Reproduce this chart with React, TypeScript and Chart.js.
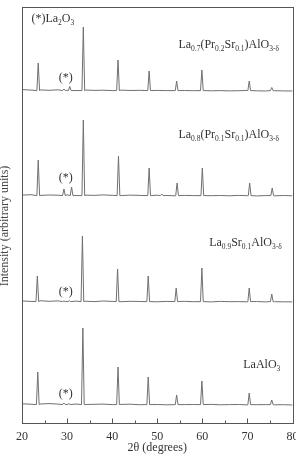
import React, { useEffect, useRef } from 'react';
import { Chart, registerables } from 'chart.js';

Chart.register(...registerables);

// ---- Data (2θ in degrees, intensity in arbitrary units) ----
const xTickValues = [20, 30, 40, 50, 60, 70, 80];
const xMinorTickValues = [25, 35, 45, 55, 65, 75];

const sampleLabels = [
  'LaAlO_{3}',
  'La_{0.9}Sr_{0.1}AlO_{3-δ}',
  'La_{0.8}(Pr_{0.1}Sr_{0.1})AlO_{3-δ}',
  'La_{0.7}(Pr_{0.2}Sr_{0.1})AlO_{3-δ}',
];
const phaseLabel = '(*)La_{2}O_{3}';
const impurityMark = '(*)';
const yTitle = 'Intensity (arbitrary units)';
const xTitle = '2θ (degrees)';

// vertical offsets of the stacked patterns
const traceOffsets = [18, 121, 227, 332];

// peak positions / heights for each sample
const posLaAlO3 = [23.5, 29.3, 30.4, 33.5, 41.3, 48.0, 54.3, 59.9, 70.4, 75.4];
const hLaAlO3 = [33, 2, 1.5, 77, 38, 28, 10, 24, 12, 5];

const posLa09 = [23.4, 29.3, 30.5, 33.4, 41.2, 48.0, 54.2, 59.9, 70.4, 75.4];
const hLa09 = [26, 1, 1.5, 66, 33, 26, 14, 34, 14, 8];

const posLa08 = [23.6, 29.3, 31.0, 33.6, 41.4, 48.2, 51.0, 54.4, 60.0, 70.5, 75.5];
const hLa08 = [36, 7, 9, 76, 40, 28, 2, 13, 28, 13, 8];

const posLa07 = [23.6, 29.3, 30.6, 33.6, 41.3, 48.2, 54.3, 59.9, 70.4, 75.4];
const hLa07 = [28, 2, 4.5, 64, 31, 20, 10, 21, 10, 3.5];

// background level, every 2° from 20° to 80°
const bgStart = 20;
const bgStep = 2;
const bgLaAlO3 = [1.2, 0.8, 1.0, 1.4, 0.9, 0.6, 1.0, 0.5, 0.7, 0.9, 0.4, 0.6, 0.8, 0.3, 0.6, 0.5, 0.2, 0.7, 0.4, 0.5, 0.3, 0.6, 0.2, 0.4, 0.5, 0.1, 0.3, 0.4, 0.2, 0.3, 0.0];
const bgLa09 = [1.0, 0.6, 1.3, 0.7, 1.1, 0.5, 0.9, 0.8, 0.4, 1.0, 0.6, 0.3, 0.7, 0.5, 0.8, 0.2, 0.6, 0.4, 0.7, 0.3, 0.5, 0.1, 0.6, 0.3, 0.4, 0.2, 0.5, 0.1, 0.3, 0.2, 0.1];
const bgLa08 = [0.9, 1.3, 0.6, 1.0, 0.8, 1.2, 0.5, 0.9, 0.6, 1.1, 0.7, 0.4, 0.9, 0.6, 0.3, 0.8, 0.5, 0.2, 0.6, 0.4, 0.7, 0.3, 0.5, 0.2, 0.6, 0.3, 0.1, 0.4, 0.2, 0.5, 0.2];
const bgLa07 = [1.4, 0.9, 1.1, 0.7, 1.2, 0.8, 0.5, 1.0, 0.6, 0.8, 0.4, 0.9, 0.5, 0.7, 0.3, 0.6, 0.4, 0.2, 0.5, 0.3, 0.6, 0.2, 0.4, 0.1, 0.3, 0.5, 0.2, 0.0, 0.3, 0.1, 0.0];

// annotation anchors in data coordinates
const sampleLabelAnchors = [
  { x: 77.3, y: 55 },
  { x: 77.6, y: 177.3 },
  { x: 77.0, y: 284.7 },
  { x: 77.0, y: 375 },
];
const phaseLabelAnchor = { x: 22.1, y: 401 };
const impurityAnchors = [
  { x: 29.7, y: 26 },
  { x: 29.7, y: 128 },
  { x: 29.7, y: 242.5 },
  { x: 29.7, y: 342 },
];
const yTitleAnchor = 197; // data value at the title's centre

// ---- rendering constants ----
const PEAK_HALF_WIDTH = 0.3;
const FOOT_LEVEL = 0.4;
const LINE_COLOR = '#707070';
const FONT = 'Liberation Serif';

type Pt = { x: number; y: number };

function buildTrace(positions: number[], heights: number[], bg: number[], offset: number): Pt[] {
  const pts: Pt[] = [];
  bg.forEach((v, i) => {
    const xv = bgStart + i * bgStep;
    if (!positions.some((p) => Math.abs(p - xv) <= PEAK_HALF_WIDTH)) pts.push({ x: xv, y: offset + v });
  });
  positions.forEach((p, i) => {
    pts.push(
      { x: p - PEAK_HALF_WIDTH, y: offset + FOOT_LEVEL },
      { x: p, y: offset + heights[i] },
      { x: p + PEAK_HALF_WIDTH, y: offset + FOOT_LEVEL }
    );
  });
  pts.sort((a, b) => a.x - b.x);
  return pts;
}

type Run = { t: string; sub: boolean };
function parseRuns(s: string): Run[] {
  const runs: Run[] = [];
  const re = /_\{([^}]*)\}/g;
  let last = 0;
  let m: RegExpExecArray | null;
  while ((m = re.exec(s))) {
    if (m.index > last) runs.push({ t: s.slice(last, m.index), sub: false });
    runs.push({ t: m[1], sub: true });
    last = m.index + m[0].length;
  }
  if (last < s.length) runs.push({ t: s.slice(last), sub: false });
  return runs;
}

const MAIN_SIZE = 12;
const SUB_SIZE = 7.5;

function runsWidth(ctx: CanvasRenderingContext2D, runs: Run[]) {
  let w = 0;
  for (const r of runs) {
    ctx.font = `${r.sub ? SUB_SIZE : MAIN_SIZE}px "${FONT}"`;
    w += ctx.measureText(r.t).width;
  }
  return w;
}

function drawRuns(ctx: CanvasRenderingContext2D, runs: Run[], x: number, y: number, align: 'left' | 'right' | 'center') {
  const w = runsWidth(ctx, runs);
  let cx = align === 'left' ? x : align === 'right' ? x - w : x - w / 2;
  ctx.textAlign = 'left';
  ctx.textBaseline = 'alphabetic';
  for (const r of runs) {
    ctx.font = `${r.sub ? SUB_SIZE : MAIN_SIZE}px "${FONT}"`;
    ctx.fillText(r.t, cx, r.sub ? y + 3 : y);
    cx += ctx.measureText(r.t).width;
  }
}

const framePlugin = {
  id: 'xrdFrame',
  afterDraw(chart: any) {
    const { ctx, chartArea: a, scales } = chart;
    const xs = scales.x;
    const ys = scales.y;
    ctx.save();
    ctx.strokeStyle = '#555';
    ctx.lineWidth = 1;
    const l = Math.round(a.left) + 0.5;
    const t = Math.round(a.top) + 0.5;
    const r = Math.round(a.right) + 0.5;
    const b = Math.round(a.bottom) + 0.5;
    ctx.strokeRect(l, t, r - l, b - t);
    ctx.beginPath();
    for (const v of xTickValues) {
      const px = Math.round(xs.getPixelForValue(v)) + 0.5;
      ctx.moveTo(px, b);
      ctx.lineTo(px, b - 5);
    }
    for (const v of xMinorTickValues) {
      const px = Math.round(xs.getPixelForValue(v)) + 0.5;
      ctx.moveTo(px, b);
      ctx.lineTo(px, b - 3);
    }
    ctx.stroke();

    ctx.fillStyle = '#333';
    sampleLabels.forEach((lab, i) => {
      const an = sampleLabelAnchors[i];
      drawRuns(ctx, parseRuns(lab), xs.getPixelForValue(an.x), ys.getPixelForValue(an.y), 'right');
    });
    drawRuns(ctx, parseRuns(phaseLabel), xs.getPixelForValue(phaseLabelAnchor.x), ys.getPixelForValue(phaseLabelAnchor.y), 'left');
    impurityAnchors.forEach((an) => {
      drawRuns(ctx, parseRuns(impurityMark), xs.getPixelForValue(an.x), ys.getPixelForValue(an.y), 'center');
    });

    // y-axis title
    ctx.save();
    ctx.translate(4.5, ys.getPixelForValue(yTitleAnchor));
    ctx.rotate(-Math.PI / 2);
    ctx.font = `12px "${FONT}"`;
    ctx.fillStyle = '#444';
    ctx.textAlign = 'center';
    ctx.textBaseline = 'middle';
    ctx.fillText(yTitle, 0, 0);
    ctx.restore();

    ctx.restore();
  },
};

export default function App() {
  const ref = useRef<HTMLCanvasElement | null>(null);

  useEffect(() => {
    if (!ref.current) return;
    Chart.defaults.font.family = FONT;
    const traces = [
      buildTrace(posLaAlO3, hLaAlO3, bgLaAlO3, traceOffsets[0]),
      buildTrace(posLa09, hLa09, bgLa09, traceOffsets[1]),
      buildTrace(posLa08, hLa08, bgLa08, traceOffsets[2]),
      buildTrace(posLa07, hLa07, bgLa07, traceOffsets[3]),
    ];
    const chart = new Chart(ref.current, {
      type: 'line',
      data: {
        datasets: traces.map((d, i) => ({
          label: sampleLabels[i],
          data: d,
          borderColor: LINE_COLOR,
          borderWidth: 1,
          pointRadius: 0,
          tension: 0,
          fill: false,
        })),
      },
      options: {
        animation: false,
        responsive: false,
        devicePixelRatio: 1,
        layout: { padding: { top: 7, right: 3.5, left: 0, bottom: 0 }, autoPadding: false },
        plugins: { legend: { display: false }, tooltip: { enabled: false } },
        scales: {
          x: {
            type: 'linear',
            min: 20,
            max: 80,
            afterFit: (s: any) => {
              s.height = 37;
              s.paddingLeft = 0;
              s.paddingRight = 0;
            },
            afterBuildTicks: (s: any) => {
              s.ticks = xTickValues.map((v) => ({ value: v }));
            },
            ticks: {
              font: { family: FONT, size: 12 },
              color: '#333',
              padding: 7,
              maxRotation: 0,
              autoSkip: false,
            },
            grid: { display: false, drawTicks: false },
            border: { display: false },
            title: {
              display: true,
              text: xTitle,
              font: { family: FONT, size: 12 },
              color: '#333',
              padding: { top: 0, bottom: 5 },
            },
          },
          y: {
            type: 'linear',
            min: 0,
            max: 416,
            afterFit: (s: any) => {
              s.width = 22;
              s.paddingTop = 0;
              s.paddingBottom = 0;
            },
            ticks: { display: false },
            grid: { display: false, drawTicks: false },
            border: { display: false },
            title: { display: false },
          },
        },
      },
      plugins: [framePlugin],
    });
    return () => chart.destroy();
  }, []);

  return (
    <div style={{ position: 'absolute', left: 0, top: 0, width: 296, height: 460, background: '#fff' }}>
      <canvas ref={ref} width={296} height={460} />
    </div>
  );
}
